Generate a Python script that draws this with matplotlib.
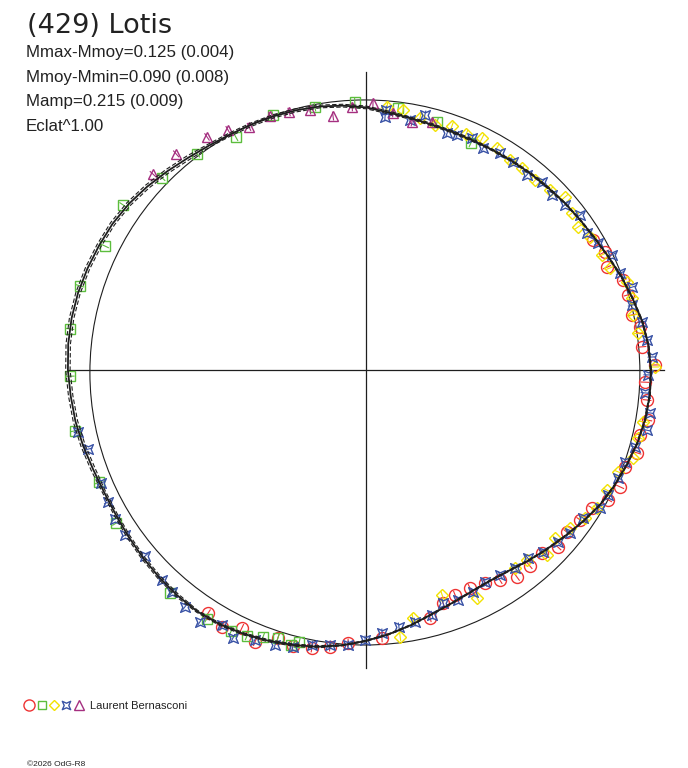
import numpy as np
import matplotlib
matplotlib.use("Agg")
import matplotlib.pyplot as plt
from matplotlib.path import Path
from matplotlib.collections import LineCollection
from matplotlib.patches import Ellipse
from matplotlib.lines import Line2D

# ---------------- data ----------------
title = "(429) Lotis"
info_lines = ["Mmax-Mmoy=0.125 (0.004)",
              "Mmoy-Mmin=0.090 (0.008)",
              "Mamp=0.215 (0.009)",
              "Eclat^1.00"]
observer = "Laurent Bernasconi"
credit = "\u00a92026 OdG-R8"

# fitted polar light curve: angle (deg) -> relative flux (mean = 1)
fit_angle = list(range(0, 360, 5))
fit_r = [1.036, 1.031, 1.020, 1.004, 0.989, 0.973, 0.960, 0.951, 0.944, 0.937,
         0.932, 0.927, 0.923, 0.921, 0.921, 0.924, 0.930, 0.940, 0.955, 0.965,
         0.973, 0.978, 0.982, 0.985, 0.989, 0.996, 1.007, 1.022, 1.038, 1.053,
         1.064, 1.071, 1.078, 1.084, 1.087, 1.087, 1.084, 1.078, 1.073, 1.065,
         1.056, 1.051, 1.051, 1.055, 1.060, 1.065, 1.069, 1.071, 1.067, 1.058,
         1.047, 1.035, 1.022, 1.005, 0.985, 0.964, 0.942, 0.920, 0.904, 0.893,
         0.889, 0.895, 0.909, 0.925, 0.942, 0.962, 0.982, 0.996, 1.009, 1.022,
         1.031, 1.036]
fit_band = [0.002, 0.002, 0.002, 0.002, 0.002, 0.002, 0.002, 0.002, 0.002, 0.003,
            0.003, 0.003, 0.003, 0.004, 0.004, 0.004, 0.004, 0.005, 0.005, 0.005,
            0.005, 0.006, 0.006, 0.006, 0.006, 0.006, 0.008, 0.008, 0.008, 0.008,
            0.008, 0.008, 0.008, 0.008, 0.008, 0.008, 0.008, 0.008, 0.008, 0.008,
            0.008, 0.006, 0.006, 0.006, 0.006, 0.006, 0.006, 0.004, 0.004, 0.004,
            0.004, 0.004, 0.004, 0.002, 0.002, 0.002, 0.002, 0.002, 0.002, 0.002,
            0.002, 0.002, 0.002, 0.002, 0.002, 0.002, 0.002, 0.002, 0.002, 0.002,
            0.002, 0.002]

theta_red = [29.8, 26.3, 23.1, 19.3, 16.0, 11.7, 8.9, 4.8, 1.0, -2.5,
             -6.1, -10.1, -13.3, -17.0, -20.5, -24.7, -28.2, -31.4, -35.0, -38.9,
             -42.7, -46.1, -50.1, -53.9, -57.5, -60.8, -64.5, -68.4, -71.7, -75.5,
             -86.6, -93.8, -97.4, -101.0, -104.8, -108.2, -112.2, -115.7, -119.3, -123.0]
r_red = [0.951, 0.969, 0.953, 0.990, 0.991, 0.988, 1.009, 1.007, 1.051, 1.016,
         1.028, 1.041, 1.024, 1.031, 1.006, 1.017, 0.999, 0.963, 0.950, 0.939,
         0.950, 0.923, 0.927, 0.932, 0.906, 0.887, 0.878, 0.880, 0.892, 0.931,
         0.976, 0.995, 1.016, 1.030, 1.038, 1.026, 1.068, 1.041, 1.071, 1.054]

theta_green = [92.4, 83.0, 74.0, 65.2, 101.0, 110.0, 119.2, 128.0, 136.7, 145.8,
               154.6, 163.6, 172.1, 181.2, 191.8, 202.8, 211.5, 228.7, 237.4, 242.7,
               245.9, 248.9, 251.8, 254.7, 256.2]
r_green = [0.975, 0.960, 0.938, 0.909, 0.974, 0.987, 0.970, 0.997, 1.019, 1.068,
           1.051, 1.084, 1.087, 1.076, 1.081, 1.053, 1.066, 1.080, 1.074, 1.068,
           1.060, 1.041, 1.026, 1.037, 1.019]

theta_yellow = [85.4, 81.9, 77.9, 74.3, 70.6, 67.0, 63.4, 59.5, 55.6, 52.3,
                48.3, 44.4, 41.0, 37.3, 34.0, 30.7, 26.0, 22.7, 18.6, 15.1,
                11.6, 7.7, 0.6, -10.6, -14.0, -18.2, -22.0, -26.5, -30.9, -34.0,
                -37.8, -41.6, -45.6, -49.7, -53.0, -64.0, -71.3, -79.3, -82.7]
r_yellow = [0.959, 0.955, 0.937, 0.926, 0.941, 0.932, 0.943, 0.937, 0.926, 0.928,
            0.925, 0.936, 0.959, 0.942, 0.930, 0.947, 0.955, 0.962, 1.002, 1.002,
            0.991, 0.998, 1.051, 1.025, 1.020, 1.022, 0.989, 0.979, 0.979, 0.961,
            0.938, 0.920, 0.941, 0.906, 0.901, 0.922, 0.864, 0.918, 0.979]

theta_blue = [85.6, 85.7, 80.0, 77.0, 71.1, 68.8, 65.4, 62.2, 58.3, 54.8,
              50.5, 46.9, 43.3, 39.7, 35.9, 31.8, 28.7, 25.1, 20.9, 17.3,
              13.7, 9.9, 6.1, 2.6, -1.0, -4.7, -8.6, -12.1, -16.0, -19.6,
              -23.2, -27.3, -30.5, -34.3, -38.6, -41.9, -45.8, -49.3, -53.0, -56.8,
              -60.7, -64.3, -68.2, -71.7, -74.9, -79.0, -82.7, -86.5, -90.2, -93.7,
              -97.5, -101.1, -104.8, -108.3, -112.4, -116.4, -119.5, -123.4, -127.4, -131.1,
              -134.2, -139.9, -145.6, -149.3, -152.9, -156.9, -164.1, -167.9]
r_blue = [0.948, 0.923, 0.923, 0.952, 0.911, 0.916, 0.928, 0.913, 0.927, 0.926,
          0.920, 0.936, 0.929, 0.940, 0.961, 0.945, 0.962, 0.988, 0.989, 1.013,
          0.996, 1.019, 1.028, 1.041, 1.025, 1.018, 1.044, 1.045, 1.017, 1.000,
          0.997, 0.990, 0.988, 0.955, 0.950, 0.937, 0.923, 0.902, 0.901, 0.891,
          0.884, 0.896, 0.901, 0.892, 0.923, 0.934, 0.942, 0.958, 0.982, 1.002,
          1.008, 1.019, 1.042, 1.053, 1.062, 1.088, 1.065, 1.097, 1.084, 1.072,
          1.065, 1.050, 1.062, 1.061, 1.054, 1.048, 1.051, 1.071]

theta_purple = [88.5, 84.0, 79.5, 75.1, 93.0, 97.4, 102.2, 106.6, 110.7, 115.7,
                119.9, 124.3, 131.3, 137.4]
r_purple = [0.971, 0.940, 0.917, 0.933, 0.958, 0.931, 0.967, 0.979, 0.987, 0.981,
            1.007, 1.026, 1.046, 1.052]

# ---------------- style ----------------
W, H = 688, 768
CX, CY, SCALE = 366, 370, 275.0      # pixel centre and pixels per unit flux
AXIS_EXT = 1.085
INK = "#1e1e1e"
C_RED, C_GREEN, C_YELLOW, C_BLUE, C_PURPLE = "#ee3333", "#5cbd3d", "#f2e200", "#3a53a6", "#a52f80"
FONT = ["Liberation Sans", "DejaVu Sans"]

star = Path([(1, 1), (0, 0.55), (-1, 1), (-0.55, 0), (-1, -1), (0, -0.55), (1, -1), (0.55, 0), (1, 1)],
            [Path.MOVETO] + [Path.LINETO] * 7 + [Path.CLOSEPOLY])

fig = plt.figure(figsize=(W / 100, H / 100), dpi=100)
ax = fig.add_axes([0, 0, 1, 1])
ax.set_xlim(-CX / SCALE, (W - CX) / SCALE)
ax.set_ylim(-(H - CY) / SCALE, CY / SCALE)
ax.axis("off")


def to_xy(theta_deg, r):
    t = np.radians(np.asarray(theta_deg, dtype=float))
    r = np.asarray(r, dtype=float)
    return r * np.cos(t), r * np.sin(t)


# cross hair
ax.plot([-AXIS_EXT, AXIS_EXT], [0, 0], color=INK, lw=0.9, zorder=2)
ax.plot([0, 0], [-AXIS_EXT, AXIS_EXT], color=INK, lw=0.9, zorder=2)

# mean-level reference circle
ax.add_patch(Ellipse((-0.004, -0.009), 2.0, 1.982, fill=False, ec=INK, lw=0.8, zorder=2))

# data points with radial error ticks
series = [
    (theta_red, r_red, "o", 8.6, C_RED),
    (theta_green, r_green, "s", 6.6, C_GREEN),
    (theta_yellow, r_yellow, "D", 6.0, C_YELLOW),
    (theta_blue, r_blue, star, 7.0, C_BLUE),
    (theta_purple, r_purple, "^", 7.2, C_PURPLE),
]
ERR = 0.016
for th, rr, mk, ms, col in series:
    x, y = to_xy(th, rr)
    ax.plot(x, y, ls="none", marker=mk, ms=ms, mfc="none", mec=col, mew=1.0, zorder=3)
    x0, y0 = to_xy(th, np.asarray(rr) - ERR)
    x1, y1 = to_xy(th, np.asarray(rr) + ERR)
    segs = np.stack([np.column_stack([x0, y0]), np.column_stack([x1, y1])], axis=1)
    ax.add_collection(LineCollection(segs, colors=col, linewidths=0.8, zorder=3))

# fitted curve and its uncertainty envelope
ang = fit_angle + [fit_angle[0] + 360]
rf = np.array(fit_r + [fit_r[0]])
bd = np.array(fit_band + [fit_band[0]])
x, y = to_xy(ang, rf)
ax.plot(x, y, color=INK, lw=1.3, zorder=4)
for s in (-1, 1):
    x, y = to_xy(ang, rf + s * bd)
    ax.plot(x, y, color=INK, lw=0.8, ls=(0, (4, 2)), zorder=4)

# texts
def fx(px):
    return px / W


def fy(py):
    return 1 - py / H


fig.text(fx(27), fy(33), title, fontsize=19.5, family=["DejaVu Sans"], color="#222222", va="baseline")
for i, line in enumerate(info_lines):
    fig.text(fx(26), fy(57 + 24.7 * i), line, fontsize=12.2, family=FONT, color="#222222", va="baseline")

# legend row
leg_items = [("o", 8.0, C_RED, 29), ("s", 6.4, C_GREEN, 41.5), ("D", 5.6, C_YELLOW, 53.5),
             (star, 6.0, C_BLUE, 66), ("^", 6.6, C_PURPLE, 78.5)]
for mk, ms, col, px in leg_items:
    fig.add_artist(Line2D([fx(px)], [fy(704.5)], transform=fig.transFigure, ls="none",
                          marker=mk, ms=ms, mfc="none", mec=col, mew=1.0))
fig.text(fx(90), fy(709), observer, fontsize=8, family=FONT, color="#222222", va="baseline")
fig.text(fx(27), fy(766), credit, fontsize=6, family=FONT, color="#222222", va="baseline")

fig.savefig("out.png", dpi=100, facecolor="white")
